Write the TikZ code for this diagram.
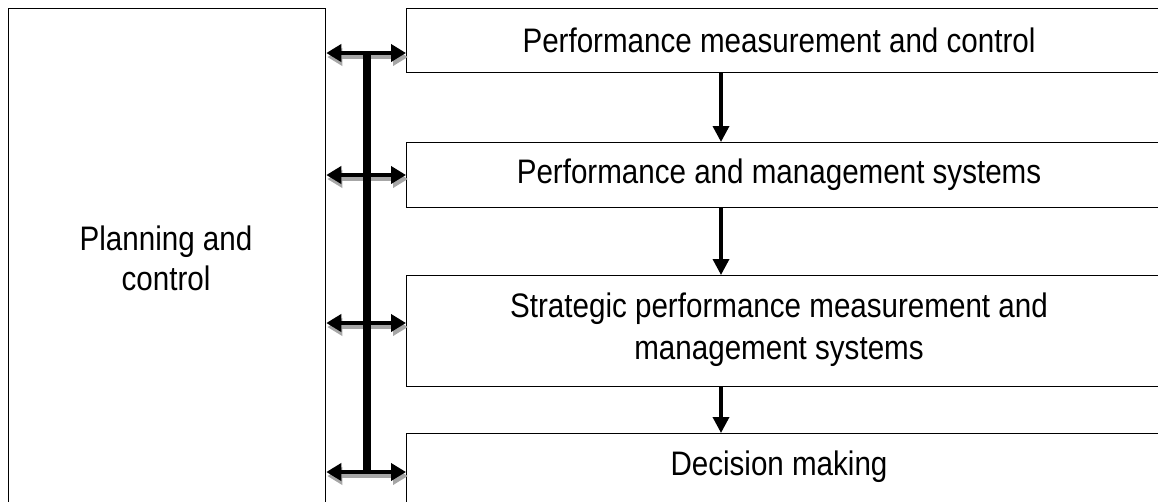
\documentclass[tikz,border=0pt]{standalone}
\usepackage{fontspec}
\setmainfont{Liberation Sans}[FakeStretch=0.87]
\usetikzlibrary{arrows.meta,calc}
\begin{document}
\begin{tikzpicture}[x=1pt,y=-1pt,
  box/.style={draw=black,line width=1.3pt,inner sep=0pt,anchor=north west},
  lbl/.style={font=\fontsize{34}{38}\selectfont,align=center,inner sep=0pt},
  dblarr/.style={line width=4.5pt,{Triangle[length=15pt,width=17pt]}-{Triangle[length=15pt,width=17pt]}},
  shad/.style={dblarr,draw=black!35,shorten <=-1pt},
  downarr/.style={line width=3.5pt,-{Triangle[length=16pt,width=16pt]}},
  bar/.style={line width=7.5pt}]
\useasboundingbox (0,0) rectangle (1158,501);
\clip (0,0) rectangle (1158,501);
\node[box,minimum width=317pt,minimum height=520pt] (left) at (8,8) {};
\node[box,minimum width=770pt,minimum height=64pt] (b1) at (406,8) {};
\node[box,minimum width=770pt,minimum height=65pt] (b2) at (406,142) {};
\node[box,minimum width=770pt,minimum height=111pt] (b3) at (406,275) {};
\node[box,minimum width=770pt,minimum height=100pt] (b4) at (406,433) {};
\node[lbl] (t1) at (779,40) {Performance measurement and control};
\node[lbl] (t2) at (779,175) {Performance and management systems};
\node[lbl] (t3) at (779,330) {Strategic performance measurement and\\[4pt]management systems};
\node[lbl] (t4) at (779,467) {Decision making};
\node[lbl] (t0) at (166,258) {Planning and\\[2pt]control};
\coordinate (ax) at (721,0);
\coordinate (bx) at (367,0);
\coordinate (y1) at (0,53);
\coordinate (y2) at (0,175);
\coordinate (y3) at (0,323);
\coordinate (y4) at (0,472);
% shadows
\foreach \y in {y1,y2,y3,y4}{
  \draw[shad] ($(left.east |- \y)+(2,4)$) -- ($(b1.west |- \y)+(2,4)$);
}
\foreach \y in {y1,y2,y3,y4}{
  \draw[dblarr] (left.east |- \y) -- (b1.west |- \y);
}
\draw[bar] (bx |- y1) -- (bx |- y4);
\draw[downarr] (ax |- b1.south) -- (ax |- b2.north);
\draw[downarr] (ax |- b2.south) -- (ax |- b3.north);
\draw[downarr] (ax |- b3.south) -- (ax |- b4.north);
\end{tikzpicture}
\end{document}
